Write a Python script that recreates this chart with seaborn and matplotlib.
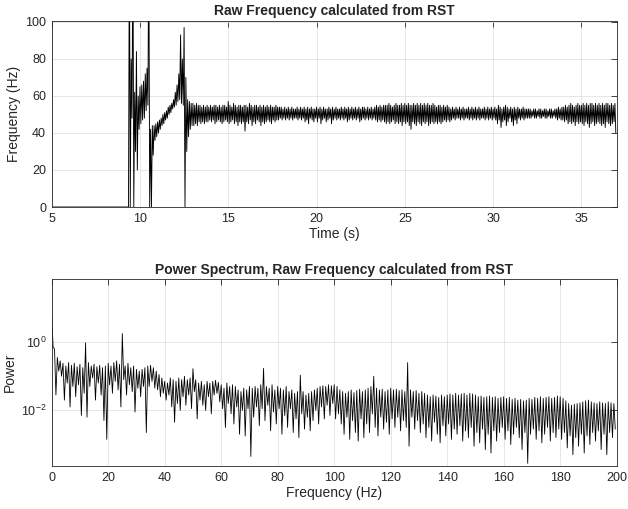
import numpy as np
import pandas as pd
import matplotlib
matplotlib.use("Agg")
import matplotlib.pyplot as plt
import seaborn as sns

# ---------------- data ----------------
# Top panel: raw frequency (Hz); each 0.1 s bin holds a high and a low sample
time_start = 5.0
time_step = 0.1
pre_hi = [0] * 44
pre_lo = [0] * 44
trans_hi = [150, 80, 150, 62, 84, 60, 65, 66, 68, 72, 75, 150, 42, 44, 44, 45, 46, 47, 48, 50,
            51, 52, 54, 55, 56, 58, 62, 66, 72, 93, 80, 97, 70, 58, 57, 56]
trans_lo = [0, 48, 0, 30, 20, 42, 45, 47, 48, 52, 55, 0, 0, 28, 36, 38, 40, 42, 44, 45,
            47, 48, 50, 51, 53, 54, 55, 57, 58, 56, 55, 0, 30, 38, 42, 44]
steady_hi = [
    56, 55, 56, 55, 55, 54, 55, 54, 55, 54,
    55, 54, 55, 55, 54, 55, 54, 55, 55, 54,
    57, 55, 54, 56, 55, 54, 55, 55, 54, 55,
    55, 54, 56, 55, 54, 55, 55, 54, 55, 54,
    55, 54, 55, 54, 55, 54, 54, 55, 54, 54,
    54, 53, 54, 53, 54, 53, 54, 53, 53, 54,
    53, 54, 53, 54, 53, 54, 53, 54, 53, 53,
    54, 53, 54, 53, 54, 53, 53, 54, 53, 54,
    53, 54, 53, 53, 54, 53, 54, 53, 54, 53,
    54, 53, 54, 53, 54, 53, 54, 54, 53, 54,
    53, 54, 53, 54, 55, 54, 55, 54, 55, 55,
    55, 56, 55, 54, 55, 56, 55, 55, 56, 55,
    56, 55, 56, 55, 55, 56, 55, 56, 55, 56,
    55, 56, 55, 56, 55, 55, 56, 55, 54, 55,
    55, 54, 55, 54, 55, 54, 53, 54, 53, 54,
    53, 54, 53, 54, 53, 53, 54, 53, 54, 53,
    54, 53, 54, 53, 53, 54, 53, 54, 53, 54,
    53, 54, 53, 55, 54, 53, 54, 55, 54, 53,
    54, 53, 54, 53, 54, 53, 53, 54, 53, 53,
    53, 53, 52, 53, 53, 52, 53, 53, 52, 53,
    53, 52, 53, 53, 52, 53, 53, 54, 53, 54,
    54, 55, 54, 55, 56, 55, 54, 55, 56, 55,
    55, 56, 55, 56, 55, 56, 56, 55, 56, 55,
    56, 55, 56, 55, 56, 56, 55, 56, 55, 56]
steady_lo = [
    44, 45, 44, 46, 45, 46, 45, 46, 46, 47,
    46, 47, 45, 46, 47, 46, 45, 46, 47, 46,
    45, 46, 47, 45, 46, 44, 46, 45, 46, 41,
    46, 45, 47, 44, 46, 45, 47, 46, 44, 46,
    45, 46, 47, 46, 45, 47, 46, 47, 47, 48,
    47, 48, 47, 48, 47, 48, 47, 48, 48, 47,
    48, 47, 48, 46, 47, 45, 48, 47, 46, 48,
    46, 48, 45, 47, 48, 46, 47, 48, 45, 47,
    48, 47, 48, 47, 48, 47, 48, 46, 47, 48,
    47, 48, 47, 48, 46, 47, 48, 47, 48, 47,
    48, 47, 48, 47, 46, 47, 46, 47, 46, 45,
    46, 45, 46, 47, 45, 46, 45, 46, 44, 46,
    45, 46, 44, 42, 46, 45, 44, 46, 45, 44,
    46, 45, 46, 44, 45, 46, 45, 46, 45, 46,
    45, 46, 47, 46, 47, 46, 47, 48, 47, 48,
    48, 47, 48, 47, 48, 48, 47, 48, 47, 48,
    47, 48, 47, 48, 48, 47, 48, 47, 48, 47,
    48, 47, 45, 47, 43, 46, 47, 44, 46, 48,
    46, 44, 47, 45, 48, 47, 48, 47, 48, 48,
    48, 48, 49, 48, 48, 49, 48, 48, 49, 48,
    48, 49, 48, 48, 49, 48, 47, 48, 47, 47,
    46, 47, 45, 46, 45, 46, 44, 46, 45, 46,
    45, 44, 46, 45, 43, 45, 46, 44, 45, 46,
    45, 44, 45, 43, 46, 45, 44, 45, 46, 40]

# Bottom panel: power spectrum, log10(power); each 1 Hz bin holds a top and a low sample
freq_start = 0.0
freq_step = 1.0
spec_top_log = [
    0.80, -0.20, -0.45, -0.55, -0.62, -0.70, -0.60, -0.68, -0.62, -0.72,
    -0.65, -0.75, -0.02, -0.60, -0.70, -0.65, -0.72, -0.68, -0.75, -0.70,
    -0.62, -0.70, -0.60, -0.55, -0.65, 0.25, -0.70, -0.62, -0.75, -0.70,
    -0.80, -0.85, -0.80, -0.75, -0.70, -0.68, -0.75, -0.85, -0.95, -1.05,
    -1.15, -1.20, -1.05, -1.10, -1.15, -1.05, -1.10, -1.00, -1.10, -1.05,
    -0.78, -1.10, -1.20, -1.15, -1.25, -1.15, -1.20, -1.15, -1.12, -1.18,
    -1.25, -1.35, -1.20, -1.30, -1.25, -1.30, -1.40, -1.45, -1.35, -1.40,
    -1.30, -1.35, -1.30, -1.35, -1.25, -0.77, -1.30, -1.35, -1.25, -1.40,
    -1.30, -1.35, -1.40, -1.30, -1.45, -1.40, -1.50, -1.45, -0.97, -1.45,
    -1.55, -1.50, -1.45, -1.40, -1.35, -1.30, -1.28, -1.30, -1.25, -1.28,
    -1.25, -1.30, -1.40, -1.45, -1.50, -1.45, -1.40, -1.48, -1.42, -1.38,
    -1.45, -1.40, -1.35, -1.30, -1.00, -1.35, -1.40, -1.38, -1.45, -1.40,
    -1.35, -1.40, -1.38, -1.42, -1.40, -1.45, -0.60, -1.40, -1.45, -1.42,
    -1.50, -1.45, -1.50, -1.55, -1.60, -1.55, -1.58, -1.62, -1.55, -1.60,
    -1.55, -1.52, -1.55, -1.50, -1.55, -1.52, -1.50, -1.55, -1.50, -1.52,
    -1.55, -1.60, -1.58, -1.62, -1.60, -1.58, -1.62, -1.60, -1.65, -1.62,
    -1.60, -1.65, -1.62, -1.68, -1.65, -1.70, -1.68, -1.72, -1.70, -1.65,
    -1.68, -1.62, -1.65, -1.60, -1.65, -1.62, -1.60, -1.65, -1.62, -1.58,
    -1.60, -1.65, -1.72, -1.80, -1.85, -1.82, -1.80, -1.78, -1.75, -1.72,
    -1.70, -1.75, -1.78, -1.80, -1.75, -1.78, -1.80, -1.75, -1.78, -1.80]
spec_low_log = [
    -0.15, -1.55, -0.85, -1.00, -1.70, -1.20, -1.90, -1.30, -1.60, -1.25,
    -2.15, -1.50, -2.20, -1.30, -1.05, -1.70, -1.20, -1.55, -2.30, -2.85,
    -1.25, -1.50, -1.15, -1.40, -1.90, -1.10, -1.55, -1.25, -1.45, -2.05,
    -1.35, -1.60, -1.30, -2.65, -1.30, -1.15, -1.35, -1.40, -1.60, -1.50,
    -1.70, -1.55, -1.90, -2.35, -1.80, -2.00, -1.60, -1.85, -1.55, -1.95,
    -1.45, -2.25, -1.70, -1.85, -2.00, -1.60, -2.10, -1.55, -1.50, -1.75,
    -1.95, -2.50, -1.80, -2.10, -2.40, -1.90, -2.70, -2.00, -2.75, -1.95,
    -3.35, -2.20, -1.90, -2.45, -1.95, -2.30, -1.85, -2.60, -2.05, -2.40,
    -1.95, -2.70, -2.15, -2.50, -1.95, -2.65, -2.25, -2.80, -2.10, -2.55,
    -2.20, -2.60, -2.30, -2.00, -2.40, -1.90, -2.25, -1.85, -2.15, -1.80,
    -2.25, -2.10, -2.40, -2.70, -2.20, -2.85, -2.30, -2.65, -2.90, -2.25,
    -2.80, -2.40, -2.65, -2.10, -2.50, -2.75, -2.20, -2.55, -2.35, -2.70,
    -2.25, -2.50, -2.20, -2.60, -2.30, -2.50, -3.05, -2.20, -2.55, -2.30,
    -2.65, -2.40, -2.80, -2.50, -2.90, -2.35, -2.70, -2.95, -2.45, -2.75,
    -2.40, -2.85, -2.55, -2.70, -2.45, -2.90, -2.60, -2.80, -2.50, -3.05,
    -2.65, -2.95, -2.55, -3.15, -2.70, -3.25, -2.60, -2.90, -2.65, -2.50,
    -2.85, -2.60, -3.00, -2.70, -2.50, -2.80, -3.15, -2.65, -3.55, -2.70,
    -2.55, -2.85, -2.60, -2.95, -2.70, -2.50, -2.90, -2.65, -2.80, -2.55,
    -2.85, -2.65, -3.10, -2.75, -3.30, -2.80, -3.05, -2.70, -3.25, -2.75,
    -3.00, -2.65, -2.90, -2.60, -3.15, -2.70, -3.30, -2.65, -2.80, -2.55]

# ---------------- build long-form tables ----------------
def zigzag(start, step, hi, lo):
    hi = np.asarray(hi, float)
    lo = np.asarray(lo, float)
    n = len(hi)
    x = np.empty(2 * n)
    y = np.empty(2 * n)
    x[0::2] = start + step * np.arange(n)
    x[1::2] = start + step * np.arange(n) + step / 2
    y[0::2] = hi
    y[1::2] = lo
    return x, y

sig_hi = pre_hi + trans_hi + steady_hi
sig_lo = pre_lo + trans_lo + steady_lo
t, f_raw = zigzag(time_start, time_step, sig_hi, sig_lo)
df_top = pd.DataFrame({"t": t, "f": f_raw})

fq, p_log = zigzag(freq_start, freq_step, spec_top_log, spec_low_log)
df_bot = pd.DataFrame({"fq": fq, "p": 10.0 ** p_log})

# ---------------- style ----------------
sns.set_style("white")
plt.rcParams["font.family"] = ["Liberation Sans", "DejaVu Sans"]
plt.rcParams["mathtext.fontset"] = "custom"
plt.rcParams["mathtext.rm"] = "Liberation Sans"
plt.rcParams["mathtext.it"] = "Liberation Sans:italic"

axis_col = "#262626"
grid_col = "#e2e2e2"

fig = plt.figure(figsize=(6.28, 5.09), dpi=100)
ax1 = fig.add_axes([0.0823, 0.5933, 0.8997, 0.3654])
ax2 = fig.add_axes([0.0823, 0.0845, 0.8997, 0.3668])

sns.lineplot(data=df_top, x="t", y="f", ax=ax1, estimator=None, sort=False,
             color="black", linewidth=0.65)
sns.lineplot(data=df_bot, x="fq", y="p", ax=ax2, estimator=None, sort=False,
             color="black", linewidth=0.6)

ax1.set_xlim(5, 37)
ax1.set_ylim(0, 100.5)
ax1.set_xticks([5, 10, 15, 20, 25, 30, 35])
ax1.set_yticks([0, 20, 40, 60, 80, 100])
ax1.set_title("Raw Frequency calculated from RST", fontsize=10, fontweight="bold", pad=4)
ax1.set_xlabel("Time (s)", fontsize=10, color=axis_col, labelpad=2)
ax1.set_ylabel("Frequency (Hz)", fontsize=10, color=axis_col, labelpad=3)

ax2.set_yscale("log")
ax2.set_xlim(0, 200)
ax2.set_ylim(10 ** -3.63, 10 ** 1.84)
ax2.set_xticks(np.arange(0, 201, 20))
ax2.set_yticks([1e-2, 1e0])
ax2.set_yticklabels(["$10^{-2}$", "$10^{0}$"])
ax2.yaxis.set_minor_locator(matplotlib.ticker.NullLocator())
ax2.set_title("Power Spectrum, Raw Frequency calculated from RST", fontsize=10,
              fontweight="bold", pad=4)
ax2.set_xlabel("Frequency (Hz)", fontsize=10, color=axis_col, labelpad=2)
ax2.set_ylabel("Power", fontsize=10, color=axis_col, labelpad=3)

for ax in (ax1, ax2):
    ax.grid(True, color=grid_col, linewidth=0.6)
    ax.set_axisbelow(True)
    for s in ax.spines.values():
        s.set_color(axis_col)
        s.set_linewidth(0.6)
        s.set_visible(True)
    ax.tick_params(direction="in", length=4, width=0.6, colors=axis_col,
                   labelsize=9, top=True, right=True, pad=4)

fig.savefig("out.png", dpi=100)
